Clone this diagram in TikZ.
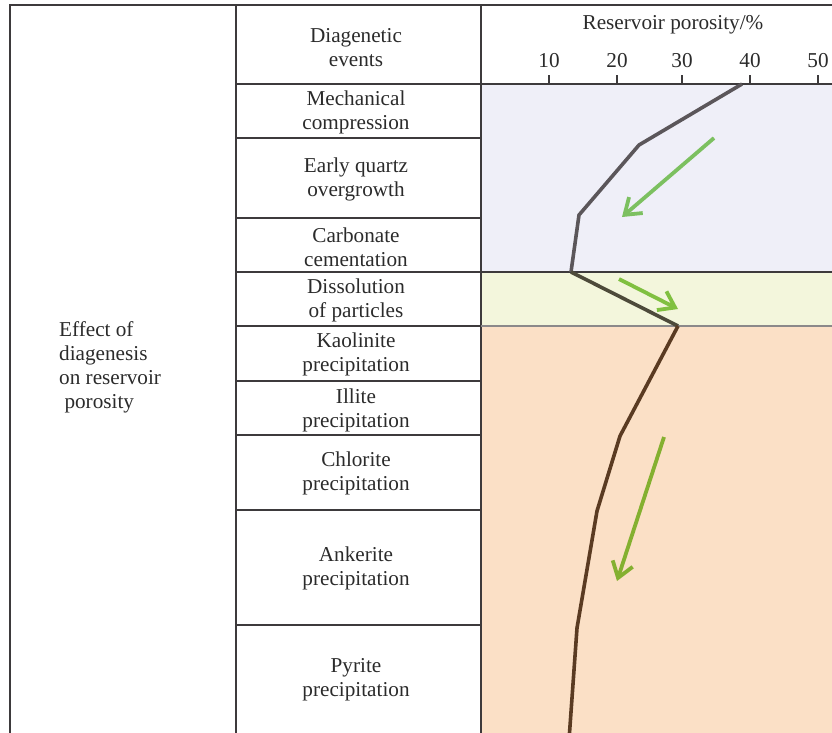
\documentclass[tikz,border=0pt]{standalone}
\usepackage{fontspec}
\setmainfont{Liberation Serif}
\usetikzlibrary{arrows.meta}
\definecolor{gridc}{HTML}{3D3A3C}
\definecolor{txtc}{HTML}{2B2B2B}
\definecolor{lav}{HTML}{EFEFF8}
\definecolor{pale}{HTML}{F3F6DC}
\definecolor{peach}{HTML}{FBE0C6}
\definecolor{curveA}{HTML}{5B565A}
\definecolor{curveB}{HTML}{4D4A3A}
\definecolor{curveC}{HTML}{5A3B22}
\definecolor{arrA}{HTML}{7CC060}
\definecolor{arrB}{HTML}{80C040}
\definecolor{arrC}{HTML}{84B030}
\tikzset{
  gridline/.style={draw=gridc, line width=1.6pt},
  lbl/.style={text=txtc, align=center, font=\fontsize{21.2}{24}\selectfont, inner sep=0pt},
  ticklbl/.style={text=txtc, font=\fontsize{21.2}{24}\selectfont, inner sep=0pt},
  curvestyle/.style={line width=3.6pt, line join=round},
  greenarrow/.style={line width=3.8pt, -{Straight Barb[length=15pt,width=21pt,line width=3.8pt]}}
}
\begin{document}
\begin{tikzpicture}[x=1pt,y=-1pt]
\useasboundingbox (0,0) rectangle (832,732);
\clip (0,0) rectangle (832,732);
% backgrounds
\fill[lav] (481,84) rectangle (840,272);
\fill[pale] (481,272) rectangle (840,326);
\fill[peach] (481,326) rectangle (840,740);
% grid
\draw[gridline] (10,740) -- (10,5) -- (840,5);
\draw[gridline] (236,5) -- (236,740);
\draw[gridline] (481,5) -- (481,740);
\draw[gridline] (236,84) -- (840,84);
\foreach \yy in {138,218,272,326,381,435,510,625}
  \draw[gridline] (236,\yy) -- (481,\yy);
\draw[gridline] (481,272) -- (840,272);
\draw[draw=gridc!60, line width=1.4pt] (481,326) -- (840,326);
% ticks
\foreach \v/\xx in {10/549,20/617,30/682,40/750,50/818} {
  \draw[draw=gridc, line width=1.5pt] (\xx,75) -- (\xx,84);
  \node[ticklbl] (t\v) at (\xx,61) {\v};
}
\node[ticklbl] (axtitle) at (673,25) {Reservoir porosity/\%};
% header and row labels
\node[lbl] (hdr) at (356,48) {Diagenetic\\events};
\node[lbl] (r1) at (356,112) {Mechanical\\compression};
\node[lbl] (r2) at (356,179) {Early quartz\\overgrowth};
\node[lbl] (r3) at (356,247) {Carbonate\\cementation};
\node[lbl] (r4) at (356,300) {Dissolution\\of particles};
\node[lbl] (r5) at (356,354) {Kaolinite\\precipitation};
\node[lbl] (r6) at (356,410) {Illite\\precipitation};
\node[lbl] (r7) at (356,473) {Chlorite\\precipitation};
\node[lbl] (r8) at (356,568) {Ankerite\\precipitation};
\node[lbl] (r9) at (356,680) {Pyrite\\precipitation};
\node[lbl, align=left, anchor=west] (side) at (59,367) {Effect of\\diagenesis\\on reservoir\\\ porosity};
% curve
\coordinate (p1) at (742,84);
\coordinate (p2) at (639,145);
\coordinate (p3) at (579,215);
\coordinate (p4) at (571,272);
\coordinate (p5) at (678,326);
\coordinate (p6) at (620,436);
\coordinate (p7) at (597,511);
\coordinate (p8) at (577,628);
\coordinate (p9) at (569,740);
\draw[curvestyle, draw=curveA] (p1) -- (p2) -- (p3) -- (p4);
\draw[curvestyle, draw=curveB] (p4) -- (p5);
\draw[curvestyle, draw=curveC] (p5) -- (p6) -- (p7) -- (p8) -- (p9);
% green arrows
\coordinate (a1s) at (714,138);
\coordinate (a1e) at (622,217);
\coordinate (a2s) at (619,279);
\coordinate (a2e) at (678,309);
\coordinate (a3s) at (664,437);
\coordinate (a3e) at (617,581);
\draw[greenarrow, draw=arrA] (a1s) -- (a1e);
\draw[greenarrow, draw=arrB] (a2s) -- (a2e);
\draw[greenarrow, draw=arrC] (a3s) -- (a3e);
\end{tikzpicture}
\end{document}
